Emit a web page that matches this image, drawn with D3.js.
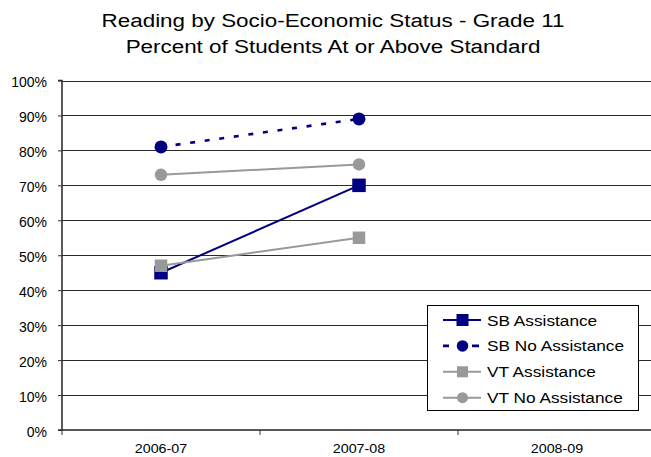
<!DOCTYPE html>
<html><head><meta charset="utf-8">
<script src="https://cdn.jsdelivr.net/npm/d3@7"></script>
<style>body{margin:0;background:#fff}svg{display:block;font-family:"Liberation Sans",Arial,sans-serif}</style>
</head><body><svg id="c" width="651" height="457"></svg>
<script>
const categories = ["2006-07", "2007-08", "2008-09"];
const sbAssistance = [45, 70];
const sbNoAssistance = [81, 89];
const vtAssistance = [47, 55];
const vtNoAssistance = [73, 76];
const yTicks = [0,10,20,30,40,50,60,70,80,90,100];
const titleLines = ["Reading by Socio-Economic Status - Grade 11", "Percent of Students At or Above Standard"];

const series = [
  {name:"SB Assistance", values:sbAssistance, color:"#000080", dash:null, legDash:null, shape:"square", size:13.5, legSize:12, width:2},
  {name:"SB No Assistance", values:sbNoAssistance, color:"#000080", dash:"5,9.7", legDash:"6,23,7", shape:"circle", size:13, legSize:11.5, width:2.6},
  {name:"VT Assistance", values:vtAssistance, color:"#999999", dash:null, legDash:null, shape:"square", size:12.5, legSize:11, width:2},
  {name:"VT No Assistance", values:vtNoAssistance, color:"#999999", dash:null, legDash:null, shape:"circle", size:12.5, legSize:11, width:2}
];

const svg = d3.select("#c");
const pLeft = 62, pTop = 80.5, pBottom = 430;
const x = d3.scaleBand().domain(categories).range([pLeft, pLeft + 594]);
const y = d3.scaleLinear().domain([0, 100]).range([pBottom, pTop]);

svg.selectAll("text.title").data(titleLines).join("text").attr("class","title")
  .attr("transform",(d,i)=>`translate(333,${27.3 + i*26}) scale(1.18,1)`)
  .attr("text-anchor","middle").attr("font-size",19).attr("fill","#000").text(d=>d);

// gridlines
svg.append("g").selectAll("line").data(yTicks.filter(d=>d>0)).join("line")
  .attr("x1", pLeft).attr("x2", pLeft+594)
  .attr("y1", d=>Math.round(y(d))+0.5).attr("y2", d=>Math.round(y(d))+0.5)
  .attr("stroke","#2a2a2a").attr("stroke-width",1.1);

// y axis
const ya = svg.append("g").attr("transform",`translate(${pLeft},0)`)
  .call(d3.axisLeft(y).tickValues(yTicks).tickSize(4).tickPadding(11).tickFormat(d=>d+"%"));
ya.select(".domain").attr("stroke","#333").attr("stroke-width",1.6).attr("d",`M-4,${pTop}H0V${pBottom}H-4`);
ya.selectAll(".tick line").attr("stroke","#333");
ya.selectAll(".tick text").attr("font-size",14).attr("dy","0.45em").attr("fill","#000").attr("font-family","Liberation Sans, Arial, sans-serif");

// x axis
const xa = svg.append("g").attr("transform",`translate(0,${pBottom})`);
xa.append("line").attr("x1",pLeft).attr("x2",pLeft+594).attr("y1",0).attr("y2",0).attr("stroke","#222").attr("stroke-width",1.6);
xa.selectAll("line.tk").data(categories.concat(["end"])).join("line").attr("class","tk")
  .attr("x1",(d,i)=>pLeft + i*x.bandwidth()).attr("x2",(d,i)=>pLeft + i*x.bandwidth())
  .attr("y1",0).attr("y2",5).attr("stroke","#333");
xa.selectAll("text").data(categories).join("text")
  .attr("transform", d=>`translate(${x(d)+x.bandwidth()/2},23.3) scale(1.1,1)`)
  .attr("text-anchor","middle").attr("font-size",13).attr("fill","#000").text(d=>d);

const cx = d=>x(d)+x.bandwidth()/2;
const line = d3.line().x(d=>cx(d.c)).y(d=>y(d.v));

function drawMarker(g, shape, size, color, px, py){
  if(shape==="square"){
    g.append("rect").attr("x",px-size/2).attr("y",py-size/2).attr("width",size).attr("height",size).attr("fill",color);
  } else {
    g.append("circle").attr("cx",px).attr("cy",py).attr("r",size/2).attr("fill",color);
  }
}

series.forEach(s=>{
  const pts = s.values.map((v,i)=>({c:categories[i], v}));
  const g = svg.append("g");
  g.append("path").datum(pts).attr("d",line).attr("fill","none")
    .attr("stroke",s.color).attr("stroke-width",s.width).attr("stroke-dasharray",s.dash);
  pts.forEach(p=>drawMarker(g, s.shape, s.size, s.color, cx(p.c), y(p.v)));
});

// legend
const lg = svg.append("g");
lg.append("rect").attr("x",427.5).attr("y",305.5).attr("width",211).attr("height",105)
  .attr("fill","#fff").attr("stroke","#000").attr("stroke-width",1);
series.forEach((s,i)=>{
  const ry = 320 + i*25.9;
  lg.append("line").attr("x1",443).attr("x2",481).attr("y1",ry).attr("y2",ry)
    .attr("stroke",s.color).attr("stroke-width",s.width).attr("stroke-dasharray",s.legDash);
  drawMarker(lg, s.shape, s.legSize, s.color, 462.5, ry);
  lg.append("text").attr("transform",`translate(487,${ry+5.5}) scale(1.15,1)`)
    .attr("font-size",15).attr("fill","#000").text(s.name);
});
</script></body></html>
